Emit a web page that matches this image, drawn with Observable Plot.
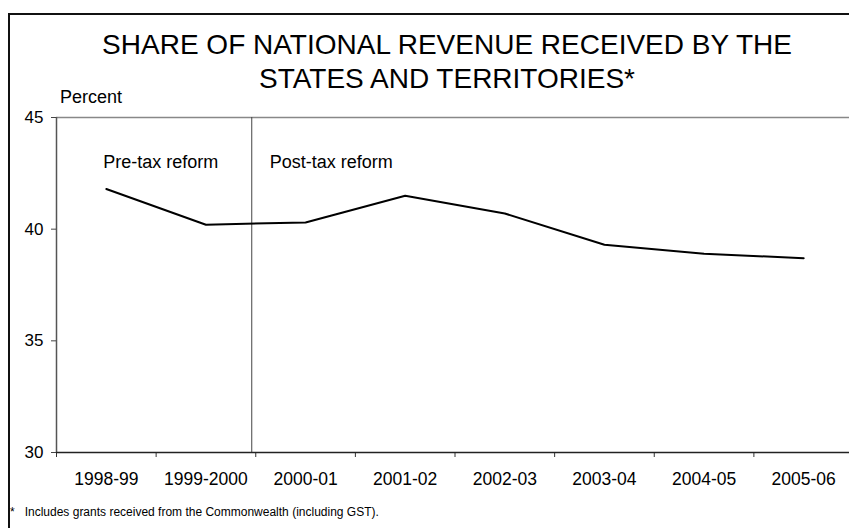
<!DOCTYPE html>
<html><head><meta charset="utf-8">
<script src="https://cdn.jsdelivr.net/npm/d3@7"></script>
<script src="https://cdn.jsdelivr.net/npm/@observablehq/plot@0.6"></script>
<style>
html,body{margin:0;padding:0;background:#fff;overflow:hidden;}
#wrap{position:relative;width:849px;height:528px;overflow:hidden;font-family:"Liberation Sans",Arial,sans-serif;color:#000;}
#frame{position:absolute;left:8px;top:13px;width:860px;height:540px;border-left:2px solid #111;border-top:2px solid #111;}
#chart{position:absolute;left:0;top:0;}
.title{position:absolute;left:447px;transform:translateX(-50%);white-space:nowrap;font-size:28px;line-height:34px;}
#ylabel{position:absolute;left:60px;top:87.5px;font-size:18px;line-height:1;white-space:nowrap;}
#note{position:absolute;left:10px;top:505.5px;font-size:12px;line-height:1;white-space:pre;}
</style></head>
<body>
<div id="wrap">
  <div id="frame"></div>
  <div id="chart"></div>
  <div class="title" id="t1" style="top:28px"></div>
  <div class="title" id="t2" style="top:62px"></div>
  <div id="ylabel"></div>
  <div id="note"></div>
</div>
<script>
const titleLines = ["SHARE OF NATIONAL REVENUE RECEIVED BY THE", "STATES AND TERRITORIES*"];
const yAxisLabel = "Percent";
const footnote = "*   Includes grants received from the Commonwealth (including GST).";
const categories = ["1998-99","1999-2000","2000-01","2001-02","2002-03","2003-04","2004-05","2005-06"];
const share = [41.8, 40.2, 40.3, 41.5, 40.7, 39.3, 38.9, 38.7];
const yTicks = [30, 35, 40, 45];
const reformAt = [1.96];
const annotationLabels = ["Pre-tax reform", "Post-tax reform"];
const annotationX = [0.47, 2.14];
const annotationY = [43, 43];

document.getElementById("t1").textContent = titleLines[0];
document.getElementById("t2").textContent = titleLines[1];
document.getElementById("ylabel").textContent = yAxisLabel;
document.getElementById("note").textContent = footnote;

const data = categories.map((c, i) => ({pos: i + 0.5, period: c, value: share[i]}));
const annotations = annotationLabels.map((t, i) => ({label: t, x: annotationX[i], y: annotationY[i]}));
const boundaries = d3.range(0, categories.length + 1);
const centers = categories.map((c, i) => i + 0.5);

const chart = Plot.plot({
  width: 849, height: 528,
  marginLeft: 56, marginRight: -4, marginTop: 117, marginBottom: 76,
  style: {fontFamily: "'Liberation Sans', Arial, sans-serif", fontSize: "17.5px", color: "#000", background: "transparent", overflow: "hidden"},
  x: {type: "linear", domain: [0, categories.length]},
  y: {domain: [30, 45]},
  marks: [
    Plot.ruleY([45], {stroke: "#888", strokeWidth: 1.5}),
    Plot.ruleX(reformAt, {stroke: "#444", strokeWidth: 1}),
    Plot.ruleX([0], {stroke: "#555", strokeWidth: 1.5}),
    Plot.axisY({ticks: yTicks, tickSize: 5, tickPadding: 8, fontSize: 17, stroke: "#444", label: null}),
    Plot.axisX({ticks: boundaries, tickSize: 5, tickFormat: () => "", label: null, stroke: "#333"}),
    Plot.axisX({ticks: centers, tickSize: 0, tickPadding: 20, tickFormat: d => categories[Math.floor(d)], label: null, fontSize: 17.5}),
    Plot.ruleY([30], {stroke: "#222", strokeWidth: 1.5}),
    Plot.lineY(data, {x: "pos", y: "value", stroke: "#000", strokeWidth: 2}),
    Plot.text(annotations, {x: "x", y: "y", text: "label", textAnchor: "start", fontSize: 18})
  ]
});
document.getElementById("chart").appendChild(chart);
</script>
</body></html>
